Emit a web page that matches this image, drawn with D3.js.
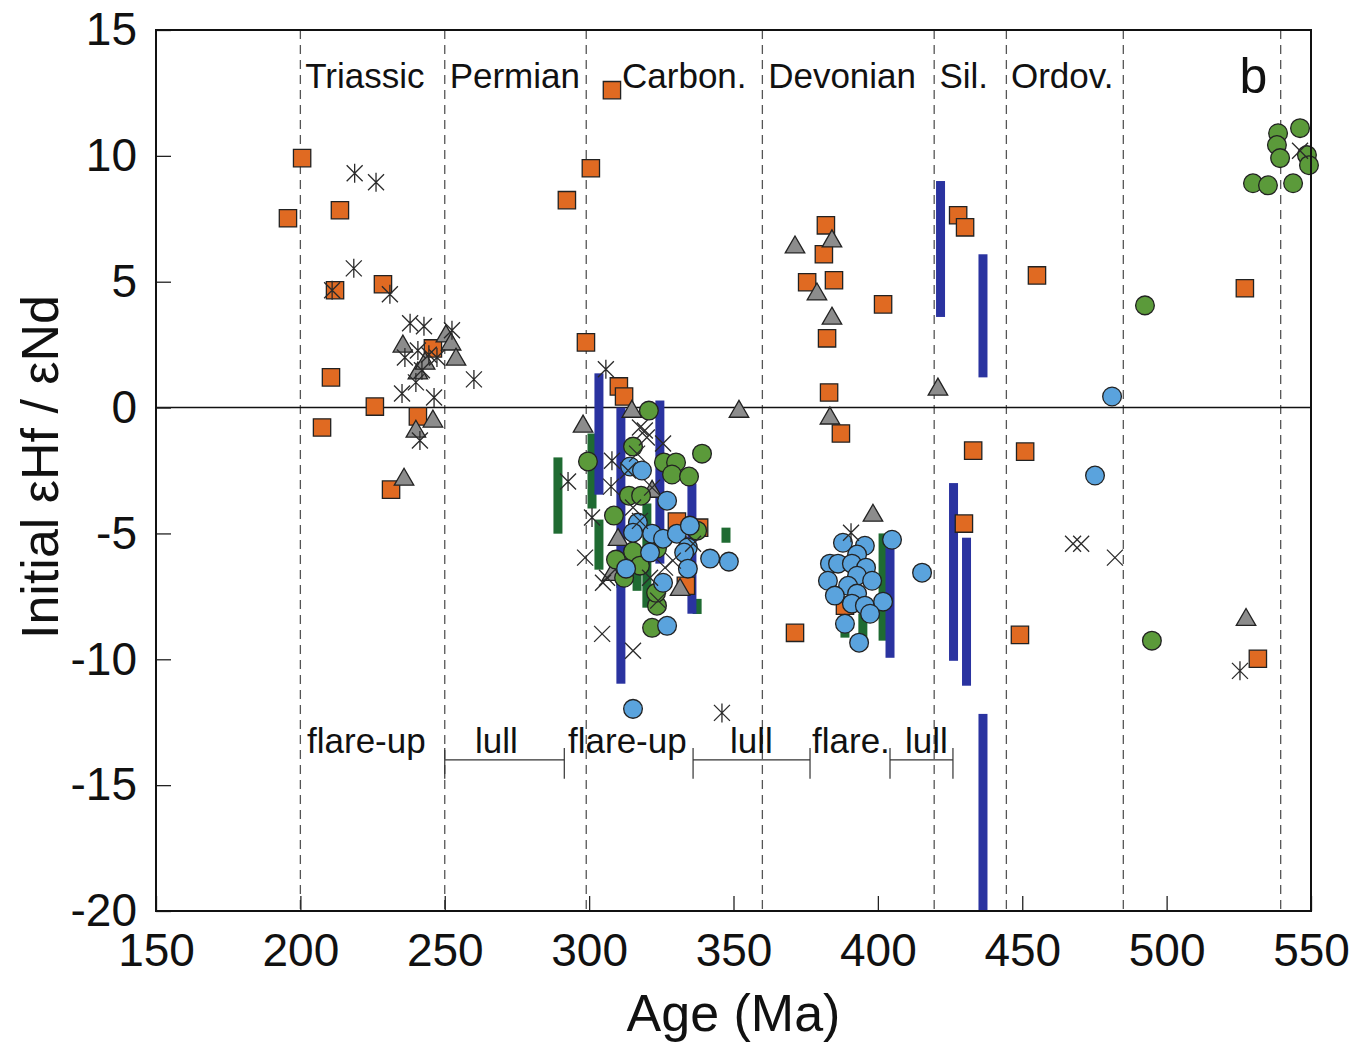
<!DOCTYPE html>
<html>
<head>
<meta charset="utf-8">
<script src="https://cdn.jsdelivr.net/npm/d3@7"></script>
<style>
  html, body { margin: 0; padding: 0; background: #fff; }
  svg { display: block; font-family: "Liberation Sans", Arial, Helvetica, sans-serif; }
</style>
</head>
<body>
<svg id="chart" width="1351" height="1044"></svg>
<script>
// ---------------- DATA ----------------
const xTicks = [150, 200, 250, 300, 350, 400, 450, 500, 550];
const yTicks = [15, 10, 5, 0, -5, -10, -15, -20];

const periodBoundaries = [200, 250, 299, 360, 419.5, 444.5, 485, 539.5];
const periodNames = ["Triassic", "Permian", "Carbon.", "Devonian", "Sil.", "Ordov."];
const periodLabelAges = [201.7, 251.7, 311.4, 362, 421.3, 446.1];

const phaseNames = ["flare-up", "lull", "flare-up", "lull", "flare.", "lull"];
const phaseLabelAges = [202.3, 260.5, 292.7, 348.8, 377.2, 409.4];
const lullBrackets = [[250, 291.4], [336, 376.5], [404.2, 426]];

// [age, value]
const orangeSquares = [
  [195.7,7.52],[200.6,9.91],[213.7,7.84],[212.0,4.66],[228.6,4.90],[210.6,1.20],[207.5,-0.79],
  [225.8,0.04],[231.4,-3.26],[240.7,-0.35],[245.9,2.35],[292.3,8.24],[300.6,9.51],[307.9,12.61],
  [298.9,2.59],[310.3,0.84],[312.1,0.44],[330.4,-4.53],[338.1,-4.77],[333.5,-7.08],[371.3,-8.95],
  [382.0,7.24],[381.3,6.09],[375.5,4.98],[384.8,5.06],[382.4,2.75],[383.1,0.60],[387.2,-1.03],
  [401.8,4.10],[388.6,-7.87],[427.8,7.64],[430.2,7.16],[433.0,-1.71],[429.8,-4.61],[455.1,5.25],
  [451.0,-1.75],[449.2,-9.03],[527.1,4.74],[531.6,-9.98]
];
const grayTriangles = [
  [235.5,2.47],[250.4,2.87],[252.2,2.55],[253.9,1.95],[240.7,1.40],[243.2,1.79],[245.9,-0.51],
  [240.0,-0.91],[235.9,-2.82],[297.9,-0.71],[314.8,-0.12],[351.9,-0.12],[310.0,-5.21],[307.9,-6.60],
  [331.5,-7.20],[321.8,-3.30],[371.3,6.41],[384.1,6.65],[378.9,4.54],[384.1,3.58],[383.4,-0.39],
  [398.3,-4.25],[420.8,0.76],[527.5,-8.39]
];
const greenCircles = [
  [299.6,-2.14],[308.6,-4.29],[315.2,-1.55],[320.7,-0.12],[313.8,-3.50],[318.0,-3.50],[309.3,-6.04],
  [315.2,-5.72],[321.8,-8.75],[339.1,-1.83],[325.9,-2.18],[330.1,-2.18],[328.7,-2.66],[334.6,-2.74],
  [337.4,-4.89],[323.5,-5.60],[323.5,-7.87],[323.2,-7.36],[312.1,-6.76],[317.6,-6.28],
  [492.5,4.06],[494.9,-9.26],
  [546.2,11.10],[538.6,10.90],[538.2,10.43],[539.3,9.91],[548.6,10.03],[549.3,9.63],
  [529.9,8.91],[535.1,8.83],[543.8,8.91]
];
const blueCircles = [
  [314.2,-2.34],[318.3,-2.50],[327.0,-3.70],[316.9,-4.57],[315.2,-4.97],[321.8,-5.01],[325.6,-5.21],
  [330.4,-5.01],[334.9,-4.69],[334.2,-5.56],[332.9,-5.76],[334.2,-6.40],[325.6,-6.96],[341.9,-6.00],
  [348.4,-6.12],[327.0,-8.67],[312.8,-6.40],[315.2,-11.97],[321.1,-5.76],
  [387.9,-5.37],[395.5,-5.49],[392.8,-5.84],[383.4,-6.20],[386.2,-6.20],[391.0,-6.20],[395.9,-6.36],
  [392.8,-6.68],[382.7,-6.88],[398.0,-6.88],[389.7,-7.08],[385.1,-7.47],[392.8,-7.39],[391.0,-7.79],
  [395.5,-7.87],[401.8,-7.71],[404.9,-5.25],[415.3,-6.56],[388.6,-8.59],[397.3,-8.19],[393.5,-9.34],
  [481.1,0.44],[475.2,-2.70]
];
const asterisks = [
  [218.8,9.31],[226.2,8.95],[218.5,5.53],[211.0,4.66],[231.0,4.50],[238.0,3.35],[242.8,3.23],
  [252.5,3.07],[236.2,1.99],[240.7,2.27],[247.3,1.99],[242.1,1.48],[240.0,1.0],[235.2,0.56],
  [246.3,0.40],[260.1,1.12],[241.4,-1.31],[244.5,2.1],
  [305.8,1.52],[292.7,-2.94],[307.9,-2.11],[307.6,-3.14],[301.0,-4.37],[346.0,-12.13],
  [390.7,-4.97],[525.4,-10.46]
];
const crosses = [
  [304.5,-8.99],[315.2,-9.66],[298.6,-5.96],[304.8,-6.96],[306.2,-6.76],[317.6,-0.79],[320.0,-1.19],
  [316.6,-1.83],[315.2,-3.97],[319.3,-0.91],[325.6,-1.43],[321.8,-3.18],[329.0,-6.08],[326.3,-6.36],
  [321.1,-6.76],[336.0,-5.41],[313.5,-2.5],[317.6,-4.5],[323.9,-7.67],
  [467.6,-5.41],[470.4,-5.41],[482.1,-5.96],[546.2,10.2]
];
// [age, top value, bottom value]
const blueBars = [
  [303.4,1.36,-3.46],[311.0,0.0,-10.97],[324.5,0.28,-6.2],[335.6,-3.02,-8.19],[404.2,-5.56,-9.94],
  [421.7,9.0,3.6],[436.4,6.09,1.2],[426.2,-3.0,-10.06],[430.7,-5.17,-11.05],[436.4,-12.17,-20]
];
const greenBars = [
  [289.2,-1.98,-5.01],[301.0,-1.03,-4.01],[303.4,-4.45,-6.44],[311.0,-5.96,-7.16],[316.6,-5.96,-7.28],
  [320.0,-3.81,-7.95],[347.4,-4.77,-5.37],[337.4,-7.6,-8.2],[401.8,-5.0,-9.26],[388.6,-8.19,-9.14],
  [394.8,-8.19,-9.46]
];

// ---------------- CHART ----------------
const svg = d3.select("#chart");
const pLeft = 156, pRight = 1311, pTop = 30, pBottom = 911;
const x = d3.scaleLinear().domain([150, 550]).range([pLeft, pRight]);
const y = d3.scaleLinear().domain([-20, 15]).range([pBottom, pTop]);

const C = {
  orange: "#e06a22", gray: "#8c8c8c", green: "#5b9a3a", blue: "#5aa3dd",
  navy: "#2a33a0", dkgreen: "#1f6b32", stroke: "#222"
};

// dashed period boundaries
svg.append("g").selectAll("line").data(periodBoundaries).join("line")
  .attr("x1", d => x(d)).attr("x2", d => x(d))
  .attr("y1", pTop).attr("y2", pBottom)
  .attr("stroke", "#555").attr("stroke-width", 1.3).attr("stroke-dasharray", "9,6");

// zero line
svg.append("line").attr("x1", pLeft).attr("x2", pRight).attr("y1", y(0)).attr("y2", y(0))
  .attr("stroke", "#111").attr("stroke-width", 1.5);

// bars
const barW = 9;
svg.append("g").selectAll("rect").data(greenBars).join("rect")
  .attr("x", d => x(d[0]) - barW / 2).attr("width", barW)
  .attr("y", d => y(d[1])).attr("height", d => y(d[2]) - y(d[1]))
  .attr("fill", C.dkgreen);
svg.append("g").selectAll("rect").data(blueBars).join("rect")
  .attr("x", d => x(d[0]) - barW / 2).attr("width", barW)
  .attr("y", d => y(d[1])).attr("height", d => y(d[2]) - y(d[1]))
  .attr("fill", C.navy);

// markers
const sq = d3.symbol(d3.symbolSquare, 300)();
const tri = d3.symbol(d3.symbolTriangle, 165)();
const circ = d3.symbol(d3.symbolCircle, 275)();
const r = 9.5, a = 8;
const crossPath = `M${-a},${-a}L${a},${a}M${-a},${a}L${a},${-a}`;
const asteriskPath = crossPath + `M0,${-r}L0,${r}`;

function markers(data, path, fill, dy = 0) {
  svg.append("g").selectAll("path").data(data).join("path")
    .attr("d", path)
    .attr("transform", d => `translate(${x(d[0])},${y(d[1]) + dy})`)
    .attr("fill", fill)
    .attr("stroke", C.stroke).attr("stroke-width", 1.3);
}
markers(orangeSquares, sq, C.orange);
markers(grayTriangles, tri, C.gray, 1);
markers(greenCircles, circ, C.green);
markers(blueCircles, circ, C.blue);

function lines(data, path) {
  svg.append("g").selectAll("path").data(data).join("path")
    .attr("d", path)
    .attr("transform", d => `translate(${x(d[0])},${y(d[1])})`)
    .attr("fill", "none")
    .attr("stroke", "#2a2a2a").attr("stroke-width", 1.3);
}
lines(crosses, crossPath);
lines(asterisks, asteriskPath);

// period labels
svg.append("g").selectAll("text").data(periodNames).join("text")
  .attr("x", (d, i) => x(periodLabelAges[i])).attr("y", 88)
  .attr("font-size", 35).attr("fill", "#111").text(d => d);
svg.append("text").attr("x", x(525.2)).attr("y", 93).attr("font-size", 50).attr("fill", "#111").text("b");

// flare-up / lull labels
svg.append("g").selectAll("text").data(phaseNames).join("text")
  .attr("x", (d, i) => x(phaseLabelAges[i])).attr("y", y(-13.72))
  .attr("font-size", 35).attr("fill", "#111").text(d => d);
const br = svg.append("g").attr("stroke", "#333").attr("stroke-width", 1.2);
lullBrackets.forEach(b => {
  br.append("line").attr("x1", x(b[0])).attr("x2", x(b[1])).attr("y1", y(-14.0)).attr("y2", y(-14.0));
  br.append("line").attr("x1", x(b[0])).attr("x2", x(b[0])).attr("y1", y(-13.52)).attr("y2", y(-14.75));
  br.append("line").attr("x1", x(b[1])).attr("x2", x(b[1])).attr("y1", y(-13.52)).attr("y2", y(-14.75));
});

// axes
const fmt = d => String(d);
const xAxis = svg.append("g").attr("transform", `translate(0,${pBottom})`)
  .call(d3.axisBottom(x).tickValues(xTicks).tickFormat(fmt).tickSizeInner(-15).tickSizeOuter(0).tickPadding(22));
const yAxis = svg.append("g").attr("transform", `translate(${pLeft},0)`)
  .call(d3.axisLeft(y).tickValues(yTicks).tickFormat(fmt).tickSizeInner(-15).tickSizeOuter(0).tickPadding(19));
[xAxis, yAxis].forEach(g => {
  g.selectAll("text").attr("font-size", 46).attr("fill", "#111")
    .attr("font-family", "'Liberation Sans', Arial, sans-serif");
  g.selectAll(".tick line").attr("stroke", "#222").attr("stroke-width", 1.3);
  g.select(".domain").remove();
});

// frame
svg.append("rect").attr("x", pLeft).attr("y", pTop).attr("width", pRight - pLeft).attr("height", pBottom - pTop)
  .attr("fill", "none").attr("stroke", "#111").attr("stroke-width", 2);

// axis titles
svg.append("text").attr("x", (pLeft + pRight) / 2).attr("y", 1031).attr("text-anchor", "middle")
  .attr("font-size", 52).attr("fill", "#111").text("Age (Ma)");
svg.append("text").attr("transform", "translate(58,467) rotate(-90)").attr("text-anchor", "middle")
  .attr("font-size", 52).attr("fill", "#111").text("Initial εHf / εNd");
</script>
</body>
</html>
